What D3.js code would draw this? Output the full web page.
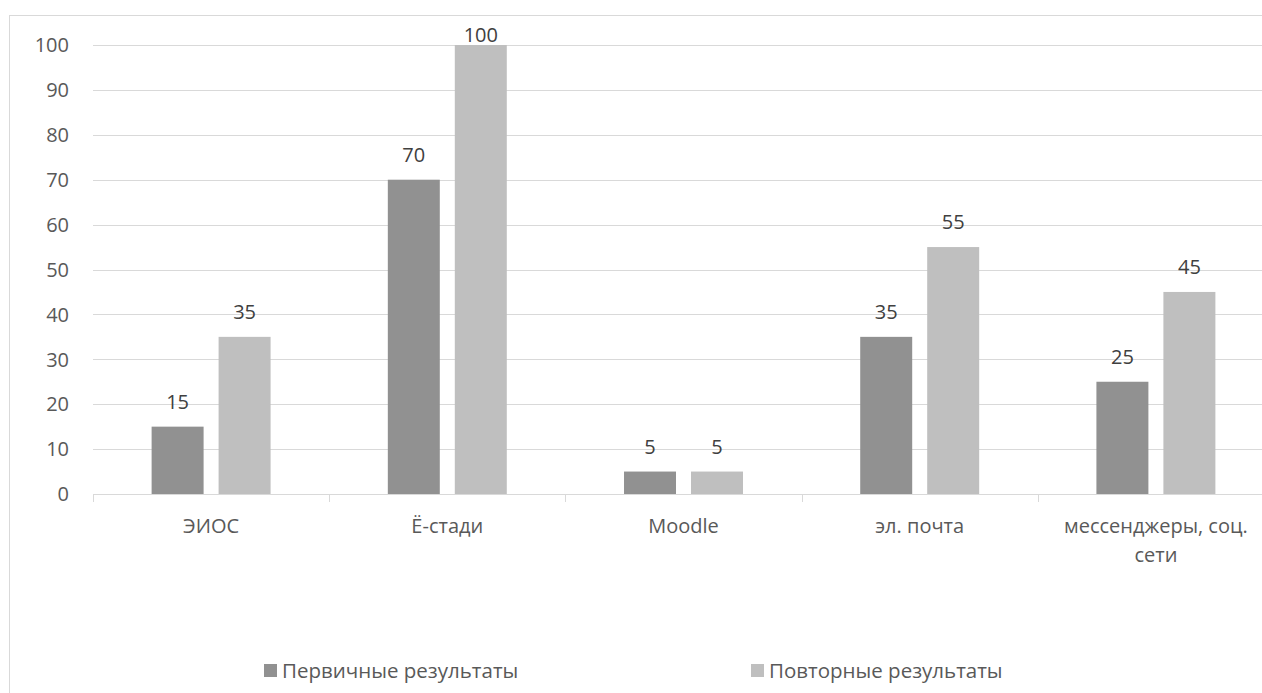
<!DOCTYPE html>
<html><head><meta charset="utf-8">
<script src="https://cdn.jsdelivr.net/npm/d3@7"></script>
<style>body{margin:0;background:#fff;}svg{display:block;font-family:"Open Sans","Liberation Sans",sans-serif;}</style>
</head><body>
<svg id="c" width="1262" height="693"></svg>
<script>
const categories = [["ЭИОС"], ["Ё-стади"], ["Moodle"], ["эл. почта"], ["мессенджеры, соц.", "сети"]];
const seriesNames = ["Первичные результаты", "Повторные результаты"];
const primary = [15, 70, 5, 35, 25];
const repeat = [35, 100, 5, 55, 45];
const yTicks = [0, 10, 20, 30, 40, 50, 60, 70, 80, 90, 100];
const colors = ["#919191", "#bfbfbf"];

const svg = d3.select("#c");
svg.append("rect").attr("x", 9.5).attr("y", 15.5).attr("width", 1300).attr("height", 800)
  .attr("fill", "#fff").attr("stroke", "#d9d9d9");

const pLeft = 93, pRight = 93 + 5 * 236.2, pTop = 45, pBottom = 494;
const x = d3.scaleBand().domain(d3.range(categories.length)).range([pLeft, pRight]);
const y = d3.scaleLinear().domain([0, 100]).range([pBottom, pTop]);
const inner = d3.scaleBand().domain([0, 1]).range([0, x.bandwidth()]).paddingInner(0.224).paddingOuter(0.875);

svg.append("g").selectAll("line").data(yTicks.filter(d => d > 0)).join("line")
  .attr("x1", pLeft).attr("x2", 1262).attr("y1", d => Math.round(y(d)) + 0.5).attr("y2", d => Math.round(y(d)) + 0.5)
  .attr("stroke", "#d9d9d9").attr("stroke-width", 1.2);

svg.append("g").selectAll("text").data(yTicks).join("text")
  .attr("x", 69).attr("y", d => y(d)).attr("dy", "0.36em").attr("text-anchor", "end")
  .attr("font-size", 20).attr("fill", "#595959").text(d => d);

const series = [primary, repeat];
series.forEach((vals, si) => {
  const g = svg.append("g");
  g.selectAll("rect").data(vals).join("rect")
    .attr("x", (d, i) => x(i) + inner(si)).attr("width", inner.bandwidth())
    .attr("y", d => y(d)).attr("height", d => y(0) - y(d)).attr("fill", colors[si]);
  g.selectAll("text").data(vals).join("text")
    .attr("x", (d, i) => x(i) + inner(si) + inner.bandwidth() / 2)
    .attr("y", d => Math.max(y(d) - 18, 42))
    .attr("text-anchor", "middle").attr("font-size", 20).attr("fill", "#404040").text(d => d);
});

// x axis
svg.append("line").attr("x1", pLeft).attr("x2", 1262).attr("y1", pBottom + 0.5).attr("y2", pBottom + 0.5)
  .attr("stroke", "#d9d9d9").attr("stroke-width", 1.2);
svg.append("g").selectAll("line").data(d3.range(categories.length + 1)).join("line")
  .attr("x1", i => Math.round(pLeft + i * x.step()) + 0.5).attr("x2", i => Math.round(pLeft + i * x.step()) + 0.5)
  .attr("y1", pBottom).attr("y2", pBottom + 8).attr("stroke", "#d9d9d9");
svg.append("g").selectAll("text").data(categories).join("text")
  .attr("x", (d, i) => x(i) + x.bandwidth() / 2).attr("y", 533)
  .attr("text-anchor", "middle").attr("font-size", 20).attr("fill", "#595959")
  .each(function(d) {
    d.forEach((line, k) => d3.select(this).append("tspan").attr("x", d3.select(this).attr("x"))
      .attr("dy", k === 0 ? 0 : 29).text(line));
  });

// legend
const legX = [264, 751];
seriesNames.forEach((n, i) => {
  svg.append("rect").attr("x", legX[i]).attr("y", 664).attr("width", 13).attr("height", 13).attr("fill", colors[i]);
  svg.append("text").attr("x", legX[i] + 18).attr("y", 678).attr("font-size", 20.5)
    .attr("fill", "#595959").text(n);
});
</script>
</body></html>
